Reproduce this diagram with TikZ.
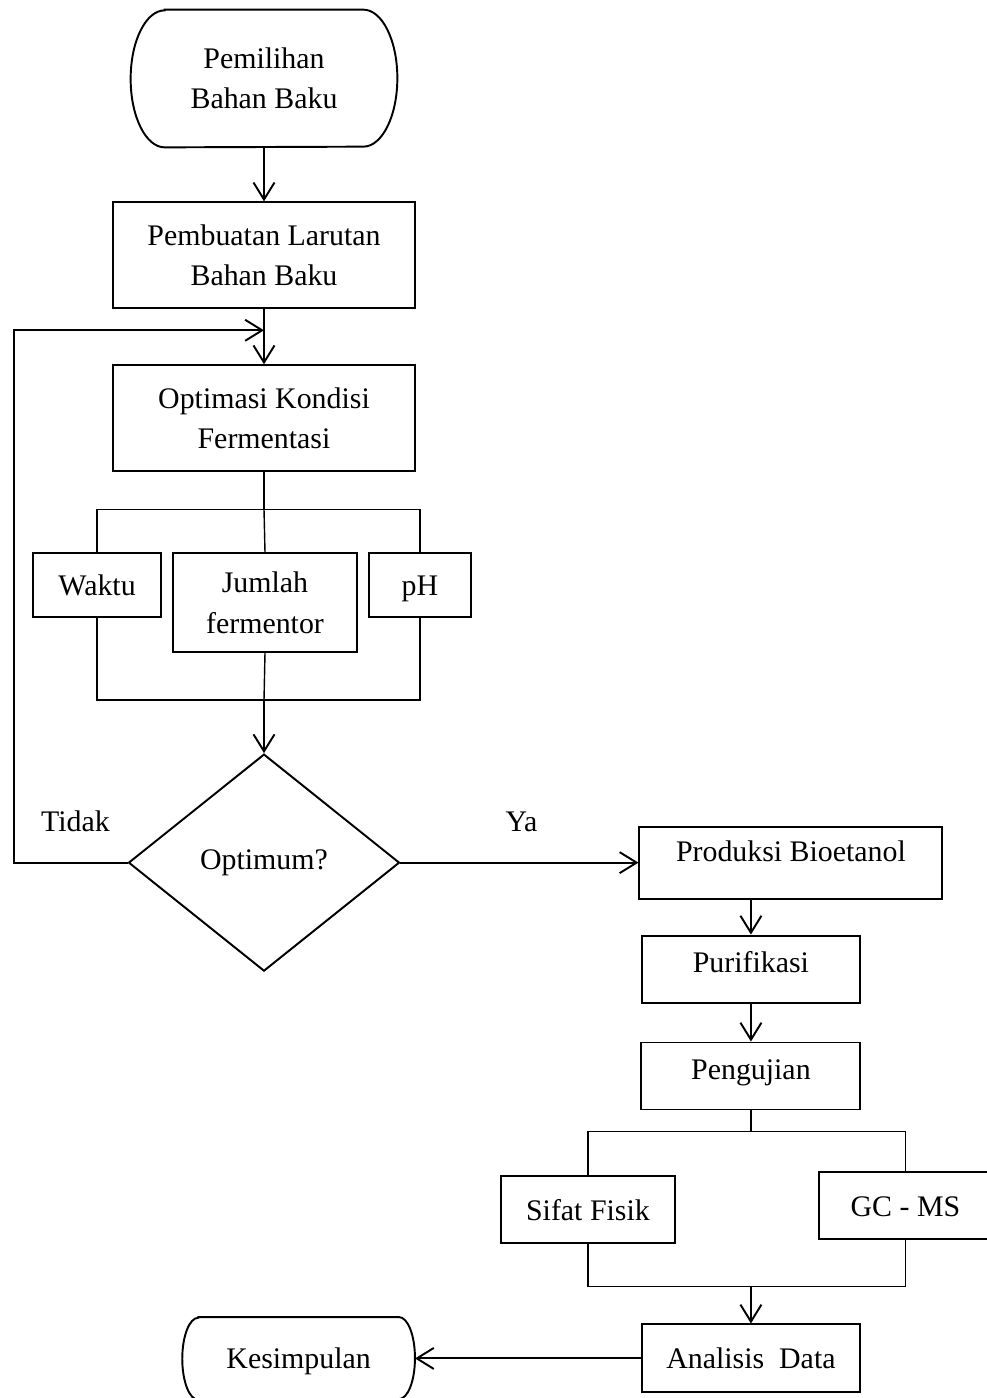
\documentclass[tikz,border=0pt]{standalone}
\usepackage{fontspec}
\setmainfont{Liberation Serif}
\usepackage{tikz}
\usetikzlibrary{shapes.geometric, arrows.meta, positioning}
\newcommand{\flowfont}{\fontsize{17}{23}\selectfont}
\tikzset{
  stepbox/.style={rectangle, draw, line width=1.1pt, inner sep=0pt,
                  align=center, font=\flowfont},
  oneline/.style={text height=15pt, text depth=3pt},
  termbox/.style={rectangle, inner sep=0pt, align=center, font=\flowfont},
  decide/.style={diamond, draw, line width=1.1pt, inner sep=0pt,
                 align=center, font=\flowfont},
  lbl/.style={inner sep=0pt, font=\flowfont},
  outline/.style={line width=1.1pt},
  branch/.style={line width=0.8pt},
  arrow/.style={-{Straight Barb[length=0.34cm, width=0.42cm, line width=1.1pt]},
                line width=1.1pt},
}

\begin{document}
\begin{tikzpicture}[node distance=1cm]
  \useasboundingbox (0,0) rectangle (19.74,-27.96);

  % ── Left column ──────────────────────────────────────────────────────
  \node[termbox, minimum width=5.32cm, minimum height=2.74cm] (start)
    at (5.28,-1.57) {Pemilihan\\Bahan Baku};
  \draw[outline] ([xshift=0.68cm]start.north west) -- ([xshift=-0.68cm]start.north east)
    arc[start angle=90, end angle=-90, x radius=0.68cm, y radius=1.37cm]
    -- ([xshift=0.68cm]start.south west)
    arc[start angle=270, end angle=90, x radius=0.68cm, y radius=1.37cm] -- cycle;

  \node[stepbox, minimum width=6.04cm, minimum height=2.12cm,
        below=1.08cm of start] (prep) {Pembuatan Larutan\\Bahan Baku};

  \node[stepbox, minimum width=6.04cm, minimum height=2.12cm,
        below=1.10cm of prep] (optim) {Optimasi Kondisi\\Fermentasi};

  % ── Parameters ───────────────────────────────────────────────────────
  \node[stepbox, minimum width=3.68cm, minimum height=1.98cm,
        below=1.60cm of optim, xshift=0.02cm] (jumlah) {Jumlah\\fermentor};
  \node[stepbox, oneline, minimum width=2.56cm, minimum height=1.28cm,
        left=0.2cm of jumlah.north west, anchor=north east] (waktu) {Waktu};
  \node[stepbox, oneline, minimum width=2.04cm, minimum height=1.28cm,
        right=0.2cm of jumlah.north east, anchor=north west] (ph) {pH};

  \node[decide, minimum width=5.42cm, minimum height=4.34cm,
        below=2.0cm of jumlah, xshift=-0.02cm] (dec) {Optimum?};

  \coordinate (fb) at ([yshift=-0.42cm]prep.south);
  \coordinate (loop) at ([xshift=-2.28cm]dec.west);
  \coordinate (tbar) at ([yshift=-0.74cm]optim.south);
  \coordinate (bbar) at ([yshift=-0.94cm]jumlah.south -| dec.north);

  \draw[arrow] (start) -- (prep);
  \draw[arrow] (prep) -- (optim);
  \draw[outline] (optim.south) -- (tbar);
  \draw[branch] (waktu.north) |- (tbar) -| (ph.north);
  \draw[branch] (tbar) -- (jumlah.north);
  \draw[branch] (waktu.south) |- (bbar) -| (ph.south);
  \draw[branch] (jumlah.south) -- (bbar);
  \draw[arrow] (bbar) -- (dec.north);

  % ── Loop back ────────────────────────────────────────────────────────
  \draw[arrow] (dec.west) -- (loop) |- (fb);
  \node[lbl] (tidak) at ([xshift=-1.04cm, yshift=0.82cm]dec.west) {Tidak};

  % ── Right column ─────────────────────────────────────────────────────
  \node[stepbox, text height=12pt, text depth=13pt,
        minimum width=6.06cm, minimum height=1.44cm,
        right=4.76cm of dec] (prod) {Produksi Bioetanol};
  \node[lbl] (ya) at ([xshift=2.42cm, yshift=0.82cm]dec.east) {Ya};
  \draw[arrow] (dec.east) -- (prod.west);

  \node[stepbox, text height=12pt, text depth=8pt,
        minimum width=4.36cm, minimum height=1.34cm,
        below=0.70cm of prod, xshift=-0.8cm] (purif) {Purifikasi};
  \node[stepbox, text height=12pt, text depth=8pt,
        minimum width=4.38cm, minimum height=1.34cm,
        below=0.76cm of purif] (uji) {Pengujian};

  \draw[arrow] (purif.north |- prod.south) -- (purif.north);
  \draw[arrow] (purif) -- (uji);

  % ── Tests ────────────────────────────────────────────────────────────
  \node[stepbox, oneline, minimum width=3.48cm, minimum height=1.34cm,
        below=1.30cm of uji, xshift=-3.26cm] (sifat) {Sifat Fisik};
  \node[stepbox, oneline, minimum width=3.46cm, minimum height=1.34cm,
        below=1.22cm of uji, xshift=3.09cm] (gcms) {GC - MS};

  \node[stepbox, oneline, minimum width=4.36cm, minimum height=1.36cm,
        below=4.26cm of uji] (ana) {Analisis\enspace Data};

  \coordinate (rtop) at ([yshift=-0.42cm]uji.south);
  \coordinate (rbot) at ([yshift=-0.84cm]uji.south |- sifat.south);

  \draw[branch] (uji.south) -- (rtop);
  \draw[branch] (sifat.north) |- (rtop) -| (gcms.north);
  \draw[branch] (sifat.south) |- (rbot) -| (gcms.south);
  \draw[arrow] (rbot) -- (ana.north);

  % ── End ──────────────────────────────────────────────────────────────
  \node[termbox, oneline, minimum width=4.64cm, minimum height=1.64cm,
        left=4.52cm of ana] (kes) {Kesimpulan};
  \draw[outline] ([xshift=0.32cm]kes.north west) -- ([xshift=-0.32cm]kes.north east)
    arc[start angle=90, end angle=-90, x radius=0.32cm, y radius=0.82cm]
    -- ([xshift=0.32cm]kes.south west)
    arc[start angle=270, end angle=90, x radius=0.32cm, y radius=0.82cm] -- cycle;
  \draw[arrow] (ana.west) -- (kes.east);

\end{tikzpicture}
\end{document}
